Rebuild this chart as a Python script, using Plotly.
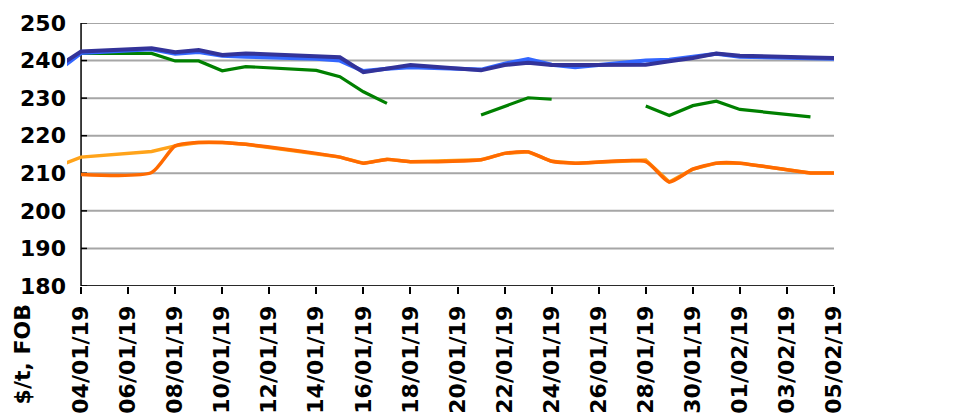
import plotly.graph_objects as go

dates = ["2019-01-03", "2019-01-04", "2019-01-07", "2019-01-08", "2019-01-09", "2019-01-10",
         "2019-01-11", "2019-01-14", "2019-01-15", "2019-01-16", "2019-01-17", "2019-01-18",
         "2019-01-21", "2019-01-22", "2019-01-23", "2019-01-24", "2019-01-25", "2019-01-28",
         "2019-01-29", "2019-01-30", "2019-01-31", "2019-02-01", "2019-02-04", "2019-02-05"]

navy = [238.4, 242.4, 243.3, 242.2, 242.8, 241.5, 241.9, 241.0, 240.9, 236.9, 237.8, 238.8,
        237.4, 238.8, 239.4, 238.8, 238.8, 238.9, 239.8, 240.7, 241.9, 241.3, 240.8, 240.7]
light_blue = [237.2, 242.0, 243.0, 241.8, 242.3, 241.3, 241.0, 240.5, 240.0, 237.2, 237.8, 238.2,
              237.6, 239.2, 240.4, 238.9, 238.2, 240.0, 240.2, 241.0, 241.8, 241.0, 240.6, 240.5]
green = [238.8, 241.9, 241.9, 239.9, 239.9, 237.3, 238.4, 237.4, 235.7, 231.7, 228.6, None,
         225.5, 227.7, 230.1, 229.7, None, 227.9, 225.4, 228.0, 229.2, 227.0, 225.0, None]
dark_orange = [None, 209.7, 210.2, 217.3, 218.2, 218.2, 217.7, 215.3, 214.3, 212.7, 213.7, 213.1,
               213.6, 215.3, 215.7, 213.2, 212.7, 213.1, 207.7, 211.1, 212.7, 212.7, 210.1, 210.1]
light_orange = [211.9, 214.3, 215.8, 217.3, 218.2, 218.2, 217.7, 215.3, 214.3, 212.7, 213.7, 213.1,
                213.6, 215.3, 215.7, 213.2, 212.7, 213.5, 207.7, 211.1, 212.7, 212.7, 210.1, 210.1]

y_ticks = [180, 190, 200, 210, 220, 230, 240, 250]
x_start = "2019-01-04"
x_end = "2019-02-05"
range_start = "2019-01-03 09:40"
y_title = "$/t, FOB"

FONT = dict(family="DejaVu Sans", size=22, color="black", weight="bold")

fig = go.Figure()
fig.add_trace(go.Scatter(x=dates, y=light_orange, mode="lines",
                         line=dict(color="#ffa31a", width=3.5)))
fig.add_trace(go.Scatter(x=dates, y=dark_orange, mode="lines",
                         line=dict(color="#ff6a00", width=3.5, shape="spline", smoothing=0.6)))
fig.add_trace(go.Scatter(x=dates, y=green, mode="lines", connectgaps=False,
                         line=dict(color="#008000", width=3.2)))
fig.add_trace(go.Scatter(x=dates, y=light_blue, mode="lines",
                         line=dict(color="#3366ff", width=4)))
fig.add_trace(go.Scatter(x=dates, y=navy, mode="lines",
                         line=dict(color="#333399", width=4)))

shapes = []
for v in y_ticks:
    shapes.append(dict(type="line", xref="x", yref="y", x0=x_start, x1=x_end, y0=v, y1=v,
                       line=dict(color="#a6a6a6", width=2), layer="below"))
    shapes.append(dict(type="line", xref="x", yref="y", xsizemode="pixel", xanchor=x_start,
                       x0=0, x1=6, y0=v, y1=v, line=dict(color="black", width=1.5), layer="below"))
shapes.append(dict(type="line", xref="x", yref="y", x0=x_start, x1=x_start,
                   y0=y_ticks[0], y1=y_ticks[-1], line=dict(color="black", width=1.5), layer="below"))
shapes.append(dict(type="line", xref="x", yref="y", x0=x_start, x1=x_end,
                   y0=y_ticks[0], y1=y_ticks[0], line=dict(color="black", width=1.5), layer="below"))

fig.update_layout(
    width=947, height=405,
    margin=dict(l=59, r=121, t=15, b=127),
    paper_bgcolor="white", plot_bgcolor="rgba(0,0,0,0)",
    showlegend=False,
    font=FONT,
    shapes=shapes,
    xaxis=dict(type="date", range=[range_start, x_end], tick0=x_start, dtick=2 * 86400000,
               tickformat="%d/%m/%y", tickangle=-90, ticks="outside", ticklen=7, tickwidth=1.5,
               tickcolor="black", showgrid=False, showline=False, zeroline=False,
               tickfont=FONT, ticklabelstandoff=3, automargin=False),
    yaxis=dict(range=[180, 250], tickvals=y_ticks, ticks="", showgrid=False, showline=False,
               zeroline=False, tickfont=FONT, ticklabelstandoff=0, automargin=False),
    annotations=[dict(text=y_title, xref="paper", yref="paper", x=-0.058, y=-0.262,
                      xanchor="center", yanchor="middle", textangle=-90, showarrow=False,
                      font=FONT)],
)

fig.write_html("out.html")
